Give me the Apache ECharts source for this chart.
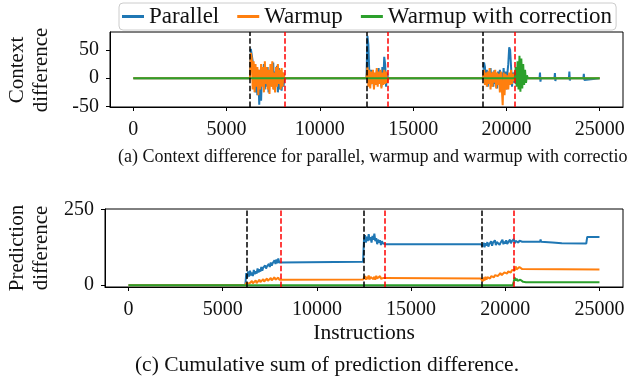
<!DOCTYPE html>
<html>
<head>
<meta charset="utf-8">
<script src="https://cdn.jsdelivr.net/npm/echarts@6/dist/echarts.min.js"></script>
<style>
  html, body { margin: 0; padding: 0; background: #fff; }
  #chart { width: 628px; height: 381px; }
</style>
</head>
<body>
<div id="chart"></div>
<script>
// sample spacing (instructions) of the bursts below
const STEP = 50;
const xTicks = [0, 5000, 10000, 15000, 20000, 25000];
const ctxTicks = [-50, 0, 50];
const predTicks = [0, 250];
const blackMarks = [6250, 12500, 18750];
const redMarks = [8100, 13620, 20450];

// --- context difference (top) ---
const parallelCtx1 = [0, 52, 55, 30, -15, 20, -25, 10, -30, 15, -47, 5, -40, 20, -10, 25, -20, 15, -15, 20, -25, 10, -10, 25, -15, 28, -20, 12, -10, 22, -25, 18, -20, 12, -22, 10, -15, 0];
const parallelCtx2 = [0, 75, 60, 10, -12, 15, -10, 12, -15, 8, -12, 14, -10, 18, -8, 12, -15, 20, -10, 38, 25, -15, 10, 0];
const parallelCtx3 = [0, 28, 20, -10, 15, -15, 12, -8, 18, -12, 10, -15, 14, -10, 8, -18, 12, -10, 15, -12, 10, -15, 18, -10, 12, -20, 8, 25, 55, 50, 20, -15, 10, -8, 12, -10, 6, 0];
const parallelCtxBlips = [[21775, 0], [21800, 10], [21825, -6], [21850, 0], [22575, 0], [22600, 9], [22625, -5], [22650, 0], [23350, 0], [23375, 12], [23400, -4], [23425, 0], [24125, 0], [24150, 8], [24175, -3], [24200, 0]];
const warmupCtx1 = [0, 45, 35, -20, 30, -25, 25, -15, 20, -30, 15, -20, 25, -15, 20, -25, 30, -10, 20, -20, 15, -28, 25, -15, 30, -20, 10, -25, 20, -15, 25, -10, 15, -20, 18, -15, 10, 0];
const warmupCtx2 = [0, 20, -15, 15, -18, 12, -10, 15, -20, 10, -12, 18, -15, 12, -10, 15, -18, 10, -12, 15, -10, 12, -8, 0];
const warmupCtx3 = [0, 15, -12, 10, -15, 12, -10, 18, -20, 10, -15, 12, -8, 15, -18, 10, -12, 8, -25, 12, -15, -48, 10, -30, 8, -20, 5, -20, 10, -12, 15, -10, 8, -5, 0];
const correctedCtx3 = [0, 20, -15, 30, -20, 40, -24, 35, -18, 25, -12, 15, -8, 5, 0];

// --- cumulative prediction difference (bottom) ---
const parallelCum1 = [40, 25, 45, 28, 48, 32, 42, 30, 50, 36, 46, 38, 55, 42, 52, 45, 60, 48, 58, 52, 65, 55, 62, 58, 70, 60, 75, 64, 72, 68, 82, 70, 85, 72, 88, 75, 80, 77];
const parallelCum2 = [150, 165, 140, 160, 145, 168, 148, 158, 140, 162, 150, 170, 145, 155, 135, 150, 140, 148, 132, 145, 138, 142, 135, 135];
const parallelCum3 = [135, 128, 140, 125, 138, 130, 142, 127, 135, 132, 145, 130, 140, 134, 148, 132, 142, 136, 145, 133, 140, 138, 150, 135, 144, 137, 148, 136, 142, 140, 150, 138, 145, 140, 152, 138, 146, 141, 150, 140, 147, 142, 145, 143, 143, 143];
const parallelCumTail = [[21850, 143], [21875, 151], [21900, 143], [22500, 141], [23000, 138], [24300, 137], [24350, 159], [25000, 159]];
const warmupCum1 = [8, 2, 12, 5, 10, 4, 14, 6, 12, 8, 16, 7, 13, 9, 18, 10, 15, 11, 20, 12, 17, 13, 22, 14, 18, 15, 24, 16, 20, 17, 26, 18, 22, 19, 25, 18, 20, 19];
const warmupCum2 = [22, 30, 18, 28, 20, 32, 19, 27, 21, 30, 20, 28, 18, 31, 22, 27, 20, 30, 21, 26, 22, 24, 22, 22];
const warmupCum3 = [22, 12, 25, 15, 28, 18, 26, 20, 32, 22, 30, 24, 35, 26, 33, 28, 38, 30, 36, 32, 40, 33, 38, 35, 42, 36, 40, 38, 45, 40, 44, 42, 50, 45, 55, 48, 62, 52, 58, 50, 60, 54, 58, 53, 52, 52];
const correctedCum3 = [12, 25, 15, 22, 14, 20, 13, 18, 12, 15, 11, 12, 10, 10];

function seg(x0, vals) {
  return vals.map((v, i) => [x0 + i * STEP, v]);
}

const FONT = 'Liberation Serif';
const C_PAR = '#1f77b4', C_WARM = '#ff7f0e', C_CORR = '#2ca02c';

const parallelCtx = [[0, 0]].concat(seg(6250, parallelCtx1), seg(12500, parallelCtx2), seg(18750, parallelCtx3), parallelCtxBlips, [[25000, 0]]);
const warmupCtx = [[0, 0]].concat(seg(6250, warmupCtx1), seg(12500, warmupCtx2), seg(18750, warmupCtx3), [[25000, 0]]);
const correctedCtx = [[0, 0]].concat(seg(20450, correctedCtx3), [[25000, 0]]);

const parallelCum = [[0, 0], [6200, 0]].concat(seg(6250, parallelCum1), [[12450, 77]], seg(12500, parallelCum2), [[18700, 135]], seg(18750, parallelCum3), parallelCumTail);
const warmupCum = [[0, 0], [6200, 0]].concat(seg(6250, warmupCum1), [[12450, 19]], seg(12500, warmupCum2), [[18700, 22]], seg(18750, warmupCum3), [[25000, 52]]);
const correctedCum = [[0, 0], [20400, 0]].concat(seg(20450, correctedCum3), [[25000, 10]]);

function marks() {
  const dash = [5.5, 2.4];
  return {
    silent: true, symbol: 'none', label: { show: false }, animation: false,
    data: blackMarks.map(x => ({ xAxis: x, lineStyle: { color: '#000', type: dash, width: 1.5 } }))
      .concat(redMarks.map(x => ({ xAxis: x, lineStyle: { color: '#ff0000', type: dash, width: 1.5 } })))
  };
}

function line(name, color, data, idx, withMarks) {
  const s = {
    name, type: 'line', data, xAxisIndex: idx, yAxisIndex: idx,
    showSymbol: false, symbol: 'none', color,
    lineStyle: { color, width: 2 }, z: 2
  };
  if (withMarks) s.markLine = marks();
  return s;
}

const plain = v => String(v);

function xAxis(grid) {
  return {
    type: 'value', gridIndex: grid, min: -1250, max: 26250,
    axisLine: { onZero: false, lineStyle: { color: '#000', width: 1 } },
    axisTick: { inside: false, length: 4, lineStyle: { color: '#000' }, customValues: xTicks },
    axisLabel: { color: '#111', fontFamily: FONT, fontSize: 20, margin: 13, customValues: xTicks, formatter: plain },
    splitLine: { show: false }
  };
}
function yAxis(grid, min, max, ticks) {
  return {
    type: 'value', gridIndex: grid, min, max,
    axisLine: { onZero: false, lineStyle: { color: '#000', width: 1 } },
    axisTick: { inside: false, length: 4, lineStyle: { color: '#000' }, customValues: ticks },
    axisLabel: { color: '#111', fontFamily: FONT, fontSize: 20, margin: 11, customValues: ticks, formatter: plain },
    splitLine: { show: false }
  };
}

function txt(x, y, text, size, rot, align) {
  return {
    type: 'text', x, y, rotation: rot || 0, z: 10,
    style: { text, fill: '#111', font: size + 'px "' + FONT + '"', textAlign: align || 'center', textVerticalAlign: 'middle' }
  };
}

const chart = echarts.init(document.getElementById('chart'), null, { renderer: 'canvas' });
chart.setOption({
  animation: false,
  backgroundColor: '#fff',
  grid: [
    { left: 110, right: 5, top: 32, height: 75, show: true, borderColor: '#000', borderWidth: 1, backgroundColor: 'transparent' },
    { left: 105, right: 5, top: 209, height: 78, show: true, borderColor: '#000', borderWidth: 1, backgroundColor: 'transparent' }
  ],
  xAxis: [xAxis(0), xAxis(1)],
  yAxis: [yAxis(0, -51, 82, ctxTicks), yAxis(1, -6, 251, predTicks)],
  legend: {
    left: 119, top: 3, padding: [2, 4, 2, 3], itemGap: 18,
    itemWidth: 22, itemHeight: 3, icon: 'rect',
    backgroundColor: 'rgba(255,255,255,0.85)', borderColor: '#cccccc', borderWidth: 1, borderRadius: 4,
    textStyle: { fontFamily: FONT, fontSize: 23, color: '#111' },
    data: ['Parallel', 'Warmup', 'Warmup with correction']
  },
  graphic: [
    txt(17, 70, 'Context', 21, Math.PI / 2),
    txt(41, 70, 'difference', 21, Math.PI / 2),
    txt(17, 248, 'Prediction', 21, Math.PI / 2),
    txt(41, 248, 'difference', 21, Math.PI / 2),
    txt(118, 157, '(a) Context difference for parallel, warmup and warmup with correction', 18, 0, 'left'),
    txt(364, 333, 'Instructions', 21.5),
    txt(327, 365, '(c) Cumulative sum of prediction difference.', 21.5)
  ],
  series: [
    line('Parallel', C_PAR, parallelCtx, 0, false),
    line('Warmup', C_WARM, warmupCtx, 0, false),
    line('Warmup with correction', C_CORR, correctedCtx, 0, true),
    line('Parallel', C_PAR, parallelCum, 1, false),
    line('Warmup', C_WARM, warmupCum, 1, false),
    line('Warmup with correction', C_CORR, correctedCum, 1, true)
  ]
});
</script>
</body>
</html>
